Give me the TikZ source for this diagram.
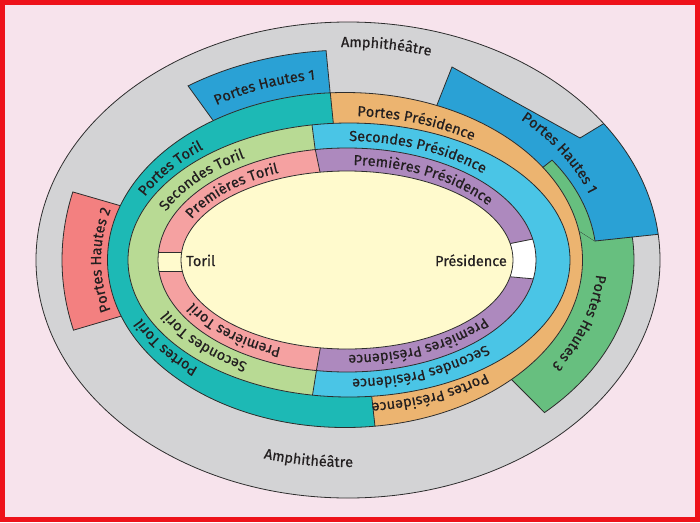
\documentclass[tikz,border=0pt]{standalone}
\usepackage{fontspec}
\setmainfont{Fira Sans}
\newfontfamily\lblfam{Fira Sans}[FakeBold=0.5]
\usetikzlibrary{calc,decorations.text}
\definecolor{frame}{RGB}{238,18,26}
\definecolor{backdrop}{RGB}{247,227,236}
\definecolor{amph}{RGB}{211,211,213}
\definecolor{hautesun}{RGB}{42,161,213}
\definecolor{hautesdeux}{RGB}{243,128,128}
\definecolor{hautestrois}{RGB}{103,191,127}
\definecolor{portesT}{RGB}{29,185,181}
\definecolor{portesP}{RGB}{236,180,112}
\definecolor{secondesT}{RGB}{184,218,148}
\definecolor{secondesP}{RGB}{74,197,230}
\definecolor{premieresT}{RGB}{245,161,161}
\definecolor{premieresP}{RGB}{173,137,190}
\definecolor{piste}{RGB}{255,250,205}
\definecolor{ink}{RGB}{35,31,32}
\definecolor{edge}{RGB}{45,45,45}
\newcommand{\lblfont}{\lblfam\fontsize{14.5}{17}\selectfont\color{ink}}
\tikzset{
  outline/.style={draw=edge, line width=0.8pt},
  along/.style={decorate, decoration={text along path, text align=center, text={|\lblfont|#1}}}
}
\begin{document}
\begin{tikzpicture}[x=1pt,y=1pt]
	\useasboundingbox (0,0) rectangle (700,-522);
	\fill[frame] (0,0) rectangle (700,-522);
	\fill[backdrop] (5,-5) rectangle (695,-517);
	\coordinate (o) at (348,-260);
	\coordinate (c) at (347,-260);
	% amphitheatre
	\fill[amph] (o) ellipse [x radius=312pt, y radius=238pt];
	% portes hautes
	\filldraw[outline, fill=hautesun] ($(o)+(124:286pt and 210pt)$) arc[start angle=124, end angle=94.4, x radius=286pt, y radius=210pt] -- (332,-112) -- (220,-130) -- cycle;
	\filldraw[outline, fill=hautesdeux] ($(o)+(164.2:286pt and 250pt)$) arc[start angle=164.2, end angle=196.3, x radius=286pt, y radius=250pt] -- (130,-313.5) -- (130,-208.5) -- cycle;
	\filldraw[outline, fill=hautestrois] (538,-171.2) -- ($(o)+(35.7:286pt and 210pt)$) arc[start angle=35.7, end angle=-46.6, x radius=286pt, y radius=210pt] -- (505,-373) -- cycle;
	\begin{scope}
		\clip (o) ellipse [x radius=312pt, y radius=238pt];
		\filldraw[outline, fill=hautesun] (452,-67) -- (580,-138) -- (620,-113.7) -- (680,-232) -- (595,-241) -- (570,-225) -- (431,-120) -- cycle;
	\end{scope}
	\fill[hautestrois] (538,-171.2) -- ($(o)+(34.8:248.5pt and 175pt)$) arc[start angle=34.8, end angle=6.2, x radius=248.5pt, y radius=175pt] -- (570,-225) -- cycle;
	\draw[outline] (538,-171.2) -- ($(o)+(34.8:248.5pt and 175pt)$) arc[start angle=34.8, end angle=6.2, x radius=248.5pt, y radius=175pt];
	\draw[outline] (o) ellipse [x radius=312pt, y radius=238pt];
	% portes
	\fill[portesP] (345,-260) ellipse [x radius=237.5pt, y radius=167.5pt];
	\begin{scope}
		\clip (327,-60) -- (340,-190) -- (368,-360) -- (378,-455) -- (0,-455) -- (0,-60) -- cycle;
		\fill[portesT] (345,-260) ellipse [x radius=237.5pt, y radius=167.5pt];
	\end{scope}
	\draw[outline] (345,-260) ellipse [x radius=237.5pt, y radius=167.5pt];
	\draw[outline] (330.3,-92.8) -- (334,-130) (371,-390) -- (374.96,-426.1);
	% secondes
	\fill[secondesP] (349,-260) ellipse [x radius=221pt, y radius=137pt];
	\begin{scope}
		\clip (308,-94) -- (318.9,-178) -- (320.2,-347) -- (307.5,-426) -- (0,-426) -- (0,-94) -- cycle;
		\fill[secondesT] (349,-260) ellipse [x radius=221pt, y radius=137pt];
	\end{scope}
	\draw[outline] (349,-260) ellipse [x radius=221pt, y radius=137pt];
	\draw[outline] (312,-124.9) -- (316,-156) (317.3,-365) -- (312.5,-395.1);
	% premieres
	\fill[premieresP] (347,-260) ellipse [x radius=189pt, y radius=112pt];
	\begin{scope}
		\clip (311.25,-130) -- (324.8,-195) -- (324.3,-325) -- (312.2,-395) -- (0,-395) -- (0,-130) -- cycle;
		\fill[premieresT] (347,-260) ellipse [x radius=189pt, y radius=112pt];
	\end{scope}
	\begin{scope}
		\clip (347,-260) ellipse [x radius=189pt, y radius=112pt];
		\filldraw[outline, fill=piste] (150,-252) rectangle (190,-271);
		\filldraw[outline, fill=white] (505,-244.6) -- (545,-236.6) -- (545,-279.9) -- (505,-276.3) -- cycle;
	\end{scope}
	\draw[outline] (347,-260) ellipse [x radius=189pt, y radius=112pt];
	\draw[outline] (315.3,-149.6) -- (322,-181.8) (321.7,-340) -- (316.4,-370.5);
	% piste
	\filldraw[outline, fill=piste] (347,-260) ellipse [x radius=166pt, y radius=89pt];
	\node[anchor=base west, inner sep=0pt, font=\lblfont] (toril) at (186,-266) {Toril};
	\node[anchor=base east, inner sep=0pt, font=\lblfont] (presidence) at (507,-266) {Présidence};
	% labels
	\path[along={Amphithéâtre}] ($(c)+(104:290pt and 213pt)$) arc[start angle=104, end angle=60, x radius=290pt, y radius=213pt];
	\path[along={Amphithéâtre}] ($(c)+(240:290pt and 207pt)$) arc[start angle=240, end angle=284, x radius=290pt, y radius=207pt];
	\path[along={Portes Hautes 1}] ($(c)+(132:248pt and 182pt)$) arc[start angle=132, end angle=88, x radius=248pt, y radius=182pt];
	\path[along={Portes Hautes 1}] ($(c)+(57:258pt and 190pt)$) arc[start angle=57, end angle=9, x radius=258pt, y radius=190pt];
	\path[along={Portes Hautes 2}] ($(c)+(206:246pt and 181pt)$) arc[start angle=206, end angle=154, x radius=246pt, y radius=181pt];
	\path[along={Portes Hautes 3}] ($(c)+(7:250pt and 184pt)$) arc[start angle=7, end angle=-45, x radius=250pt, y radius=184pt];
	\path[along={Portes Toril}] ($(c)+(165:225pt and 144pt)$) arc[start angle=165, end angle=121, x radius=225pt, y radius=144pt];
	\path[along={Secondes Toril}] ($(c)+(166:198pt and 119pt)$) arc[start angle=166, end angle=114, x radius=198pt, y radius=119pt];
	\path[along={Premières Toril}] ($(c)+(166:172pt and 95pt)$) arc[start angle=166, end angle=106, x radius=172pt, y radius=95pt];
	\path[along={Portes Présidence}] ($(c)+(97:225pt and 144pt)$) arc[start angle=97, end angle=45, x radius=225pt, y radius=144pt];
	\path[along={Secondes Présidence}] ($(c)+(97:198pt and 119pt)$) arc[start angle=97, end angle=37, x radius=198pt, y radius=119pt];
	\path[along={Premières Présidence}] ($(c)+(94:172pt and 95pt)$) arc[start angle=94, end angle=26, x radius=172pt, y radius=95pt];
	\path[along={Premières Toril}] ($(c)+(255:172pt and 95pt)$) arc[start angle=255, end angle=195, x radius=172pt, y radius=95pt];
	\path[along={Secondes Toril}] ($(c)+(247:198pt and 119pt)$) arc[start angle=247, end angle=195, x radius=198pt, y radius=119pt];
	\path[along={Portes Toril}] ($(c)+(237:225pt and 144pt)$) arc[start angle=237, end angle=193, x radius=225pt, y radius=144pt];
	\path[along={Premières Présidence}] ($(c)+(332:172pt and 95pt)$) arc[start angle=332, end angle=264, x radius=172pt, y radius=95pt];
	\path[along={Secondes Présidence}] ($(c)+(324:198pt and 119pt)$) arc[start angle=324, end angle=264, x radius=198pt, y radius=119pt];
	\path[along={Portes Présidence}] ($(c)+(319:225pt and 144pt)$) arc[start angle=319, end angle=267, x radius=225pt, y radius=144pt];
\end{tikzpicture}
\end{document}
